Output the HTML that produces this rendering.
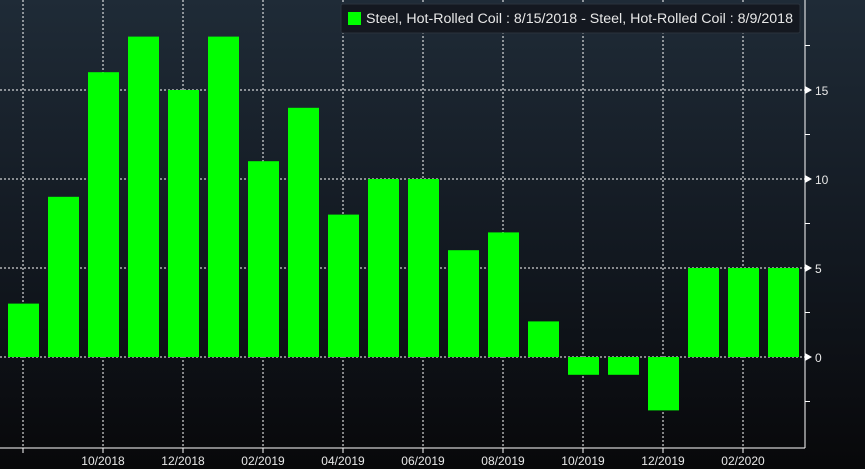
<!DOCTYPE html>
<html><head><meta charset="utf-8"><style>
html,body{margin:0;padding:0;background:#000}
svg{display:block}
text{font-family:"Liberation Sans",sans-serif;fill:#e8e8e8}
</style></head><body>
<svg id="c" width="865" height="469">
<defs><linearGradient id="bg" x1="0" y1="0" x2="0" y2="1">
<stop offset="0" stop-color="#1f2b37"/><stop offset="0.55" stop-color="#121820"/><stop offset="1" stop-color="#08080a"/></linearGradient></defs>
<rect width="865" height="469" fill="url(#bg)"/>
<g id="grid"></g>
<g id="bars"></g>
<g id="axes"></g>
<g>
<rect x="341" y="4" width="459" height="29" rx="2" fill="#141820" stroke="#2a323c"/>
<rect x="348" y="12" width="13" height="13" fill="#00ff00"/>
<text x="366" y="23" font-size="13.5" textLength="427" lengthAdjust="spacingAndGlyphs">Steel, Hot-Rolled Coil : 8/15/2018 - Steel, Hot-Rolled Coil : 8/9/2018</text>
</g>
</svg>
<script>
const values=[3,9,16,18,15,18,11,14,8,10,10,6,7,2,-1,-1,-3,5,5,5];
const xLabels=["","10/2018","12/2018","02/2019","04/2019","06/2019","08/2019","10/2019","12/2019","02/2020"];
const yTicks=[0,5,10,15];
const NS="http://www.w3.org/2000/svg";
const x=i=>23+40*i;
const y=v=>357-17.8*v;
function mk(t,a,p){const e=document.createElementNS(NS,t);for(const k in a)e.setAttribute(k,a[k]);p.appendChild(e);return e;}
const grid=document.getElementById('grid'),bars=document.getElementById('bars'),axes=document.getElementById('axes');
yTicks.forEach(v=>{
 const l=mk('line',{x1:0,x2:805,y1:y(v),y2:y(v),stroke:'#fff','stroke-width':1,'stroke-dasharray':'2,2'},grid);
 
 
 const t=mk('text',{x:815,y:y(v)+5,'font-size':12},axes);t.textContent=v;
 
 
 mk('path',{d:`M805 ${y(v)-4}L812 ${y(v)}L805 ${y(v)+4}Z`,fill:'#fff'},axes);
});
for(let v=-2.5;v<20;v+=5){mk('line',{x1:805,x2:810,y1:y(v),y2:y(v),stroke:'#fff'},axes);}
xLabels.forEach((s,k)=>{
 const gx=x(2*k);
 const l=mk('line',{x1:gx,x2:gx,y1:0,y2:448,stroke:'#fff','stroke-width':1,'stroke-dasharray':'2,2'},grid);
 
 
 mk('line',{x1:gx,x2:gx,y1:448,y2:453,stroke:'#fff'},axes);
 if(s){const t=mk('text',{x:gx,y:465,'font-size':12,'text-anchor':'middle'},axes);t.textContent=s;
 
 }
});
values.forEach((v,i)=>{
 const r=mk('rect',{x:x(i)-15,y:Math.min(y(v),y(0)),width:31,height:Math.abs(y(v)-y(0)),fill:'#00ff00'},bars);
 
 
});
mk('line',{x1:0,x2:805,y1:448,y2:448,stroke:'#fff'},axes);
mk('line',{x1:805,x2:805,y1:0,y2:448,stroke:'#fff'},axes);
</script>
</body></html>
